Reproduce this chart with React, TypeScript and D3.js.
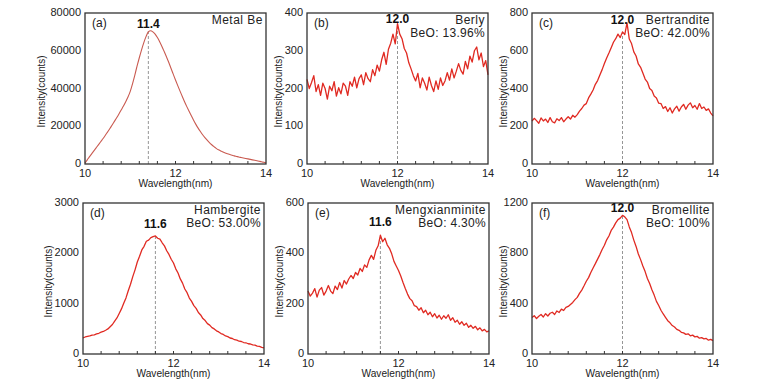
import React from 'react';
import * as d3 from 'd3';

// wavelength grid shared by all six spectra (nm)
const wavelength = [
  10.0, 10.05, 10.1, 10.15, 10.2, 10.25, 10.3, 10.35, 10.4, 10.45,
  10.5, 10.55, 10.6, 10.65, 10.7, 10.75, 10.8, 10.85, 10.9, 10.95,
  11.0, 11.05, 11.1, 11.15, 11.2, 11.25, 11.3, 11.35, 11.4, 11.45,
  11.5, 11.55, 11.6, 11.65, 11.7, 11.75, 11.8, 11.85, 11.9, 11.95,
  12.0, 12.05, 12.1, 12.15, 12.2, 12.25, 12.3, 12.35, 12.4, 12.45,
  12.5, 12.55, 12.6, 12.65, 12.7, 12.75, 12.8, 12.85, 12.9, 12.95,
  13.0, 13.05, 13.1, 13.15, 13.2, 13.25, 13.3, 13.35, 13.4, 13.45,
  13.5, 13.55, 13.6, 13.65, 13.7, 13.75, 13.8, 13.85, 13.9, 13.95, 14.0,
];

// intensity (counts)
const metalBe = [
  500, 2200, 3900, 5500, 7100, 8700, 10300, 11900, 13500, 15200,
  17000, 18800, 20700, 22600, 24500, 26500, 28600, 30700, 33000, 35500,
  38500, 42500, 47000, 51800, 56300, 60500, 64300, 67600, 70000, 70600,
  70000, 68800, 67000, 64800, 62300, 59600, 56800, 53900, 50700, 47600,
  44500, 41500, 38600, 35800, 33000, 30400, 27900, 25500, 23200, 21000,
  19000, 17200, 15500, 14000, 12600, 11300, 10200, 9200, 8300, 7500,
  6900, 6300, 5800, 5400, 5000, 4650, 4300, 4000, 3700, 3450,
  3200, 2950, 2700, 2450, 2200, 1950, 1700, 1450, 1200, 900, 600,
];

const berly = [
  224, 200, 216, 234, 192, 210, 182, 214, 200, 172,
  206, 194, 218, 180, 202, 186, 214, 206, 182, 218,
  206, 230, 202, 226, 236, 210, 242, 226, 218, 250,
  234, 262, 246, 276, 296, 264, 304, 320, 344, 318,
  372, 344, 332, 306, 294, 268, 252, 234, 220, 240,
  202, 228, 214, 196, 230, 208, 192, 220, 198, 228,
  208, 220, 242, 222, 252, 228, 246, 266, 248, 238,
  272, 252, 286, 270, 300, 310, 276, 294, 258, 274, 236,
];

const bertrandite = [
  228, 242, 230, 216, 244, 228, 238, 220, 246, 224,
  218, 240, 230, 246, 224, 238, 250, 238, 258, 248,
  262, 280, 294, 312, 320, 350, 370, 392, 422, 442,
  472, 500, 532, 562, 588, 616, 645, 664, 688, 670,
  700, 686, 748, 662, 638, 594, 572, 530, 512, 482,
  450, 434, 400, 390, 360, 350, 322, 320, 294, 304,
  278, 298, 270, 292, 306, 280, 302, 316, 290, 312,
  324, 298, 310, 290, 320, 294, 302, 284, 292, 270, 255,
];

const hambergite = [
  320, 338, 348, 358, 375, 382, 400, 412, 433, 448,
  472, 498, 543, 586, 655, 716, 805, 896, 1006, 1115,
  1256, 1385, 1538, 1672, 1828, 1942, 2068, 2140, 2240, 2262,
  2312, 2332, 2345, 2300, 2282, 2210, 2148, 2052, 1978, 1882,
  1808, 1692, 1608, 1492, 1408, 1292, 1218, 1112, 1046, 962,
  906, 824, 776, 704, 664, 604, 574, 524, 498, 460,
  438, 406, 388, 358, 345, 318, 308, 284, 275, 254,
  248, 228, 223, 204, 199, 180, 175, 156, 151, 132, 120,
];

const mengxianminite = [
  250, 230, 242, 260, 226, 254, 264, 234, 250, 272,
  250, 240, 270, 256, 284, 262, 292, 278, 298, 312,
  300, 324, 314, 340, 328, 354, 344, 374, 392, 376,
  412, 430, 472, 446, 460, 434, 420, 398, 368, 350,
  332, 310, 284, 260, 238, 220, 212, 192, 188, 174,
  184, 164, 174, 156, 166, 148, 160, 143, 154, 138,
  152, 142, 156, 134, 144, 126, 134, 118, 128, 114,
  122, 106, 114, 102, 110, 96, 104, 92, 98, 88, 92,
];

const bromellite = [
  290, 304, 282, 300, 314, 294, 320, 302, 324, 332,
  314, 342, 330, 357, 346, 370, 378, 394, 410, 432,
  450, 482, 508, 542, 578, 607, 648, 684, 718, 754,
  790, 830, 864, 907, 938, 982, 1008, 1042, 1068, 1080,
  1102, 1090, 1068, 1010, 965, 905, 855, 795, 750, 700,
  655, 600, 560, 510, 468, 418, 385, 348, 318, 292,
  265, 248, 226, 215, 196, 188, 172, 168, 156, 160,
  145, 150, 136, 140, 126, 130, 120, 124, 110, 116, 106,
];

const panelTags = ['(a)', '(b)', '(c)', '(d)', '(e)', '(f)'];
const minerals = ['Metal Be', 'Berly', 'Bertrandite', 'Hambergite', 'Mengxianminite', 'Bromellite'];
const beoContent = ['', 'BeO: 13.96%', 'BeO: 42.00%', 'BeO: 53.00%', 'BeO: 4.30%', 'BeO: 100%'];
const peakWavelength = [11.4, 12.0, 12.0, 11.6, 11.6, 12.0];
const peakLabels = ['11.4', '12.0', '12.0', '11.6', '11.6', '12.0'];
const peakIntensity = [70600, 360, 700, 2340, 465, 1105];
const yTickSets = [
  [0, 20000, 40000, 60000, 80000],
  [0, 100, 200, 300, 400],
  [0, 200, 400, 600, 800],
  [0, 1000, 2000, 3000],
  [0, 200, 400, 600],
  [0, 400, 800, 1200],
];
const xTickLabels = [10, 12, 14];
const series = [metalBe, berly, bertrandite, hambergite, mengxianminite, bromellite];

// layout of the six panels
const PW = 181;
const PH = 151;
const layout = [
  { left: 85, top: 13, ylab: 40, peakDy: 15 },
  { left: 307, top: 13, ylab: 25, peakDy: 10 },
  { left: 532, top: 13, ylab: 25, peakDy: 11 },
  { left: 83, top: 203, ylab: 31, peakDy: 25 },
  { left: 308, top: 203, ylab: 25, peakDy: 23 },
  { left: 532, top: 203, ylab: 25, peakDy: 9 },
];

const FONT = '"Liberation Sans", Arial, sans-serif';

const Panel = ({ i }: { i: number }) => {
  const { left, top, ylab, peakDy } = layout[i];
  const yTicks = yTickSets[i];
  const x = d3.scaleLinear().domain([10, 14]).range([0, PW]);
  const y = d3.scaleLinear().domain([0, yTicks[yTicks.length - 1]]).range([PH, 0]);
  const vals = series[i];
  const line = d3.line<number>()
    .x((_, k) => x(wavelength[k]))
    .y(d => y(d))
    .curve(i === 0 ? d3.curveMonotoneX : d3.curveLinear);
  const minor = d3.range(10.4, 13.9, 0.4);
  const color = i === 0 ? '#c95a50' : '#e02a22';
  const px = x(peakWavelength[i]);

  return (
    <g transform={`translate(${left},${top})`} fontFamily={FONT} fill="#222">
      <line x1={px} x2={px} y1={PH} y2={y(peakIntensity[i])}
        stroke="#8a8a8a" strokeWidth={0.9} strokeDasharray="3,2" />
      <path d={line(vals) ?? ''} fill="none" stroke={color}
        strokeWidth={i === 0 ? 1.1 : 1.3} strokeLinejoin="round" />
      <rect x={0} y={0} width={PW} height={PH} fill="none" stroke="#333" strokeWidth={1.3} />
      {minor.map(t => (
        <line key={t} x1={x(t)} x2={x(t)} y1={PH} y2={PH - 3} stroke="#333" strokeWidth={1} />
      ))}
      {xTickLabels.map(t => (
        <text key={t} x={x(t)} y={PH + 12.5} fontSize={11} textAnchor="middle">{t}</text>
      ))}
      {yTicks.map(t => (
        <text key={t} x={-4} y={y(t) - 0.5} dy="0.32em" fontSize={11} textAnchor="end">{t}</text>
      ))}
      <text x={PW / 2} y={PH + 23} fontSize={10.5} textAnchor="middle"
        textLength={74} lengthAdjust="spacingAndGlyphs">Wavelength(nm)</text>
      <text transform={`translate(${-ylab},${PH / 2 + 3}) rotate(-90)`} fontSize={11}
        textAnchor="middle" textLength={72} lengthAdjust="spacingAndGlyphs">Intensity(counts)</text>
      <text x={7} y={14} fontSize={12}>{panelTags[i]}</text>
      <text x={px} y={peakDy} fontSize={12} fontWeight="bold" textAnchor="middle" fill="#111">
        {peakLabels[i]}
      </text>
      <text x={PW - 3} y={11} fontSize={12} textAnchor="end" letterSpacing={0.5}>{minerals[i]}</text>
      {beoContent[i] && (
        <text x={PW - 3} y={24} fontSize={12} textAnchor="end" letterSpacing={0.3}>{beoContent[i]}</text>
      )}
    </g>
  );
};

export default function App() {
  return (
    <svg width={757} height={385} style={{ position: 'absolute', left: 0, top: 0, background: '#fff' }}>
      {series.map((_, i) => <Panel key={i} i={i} />)}
    </svg>
  );
}
